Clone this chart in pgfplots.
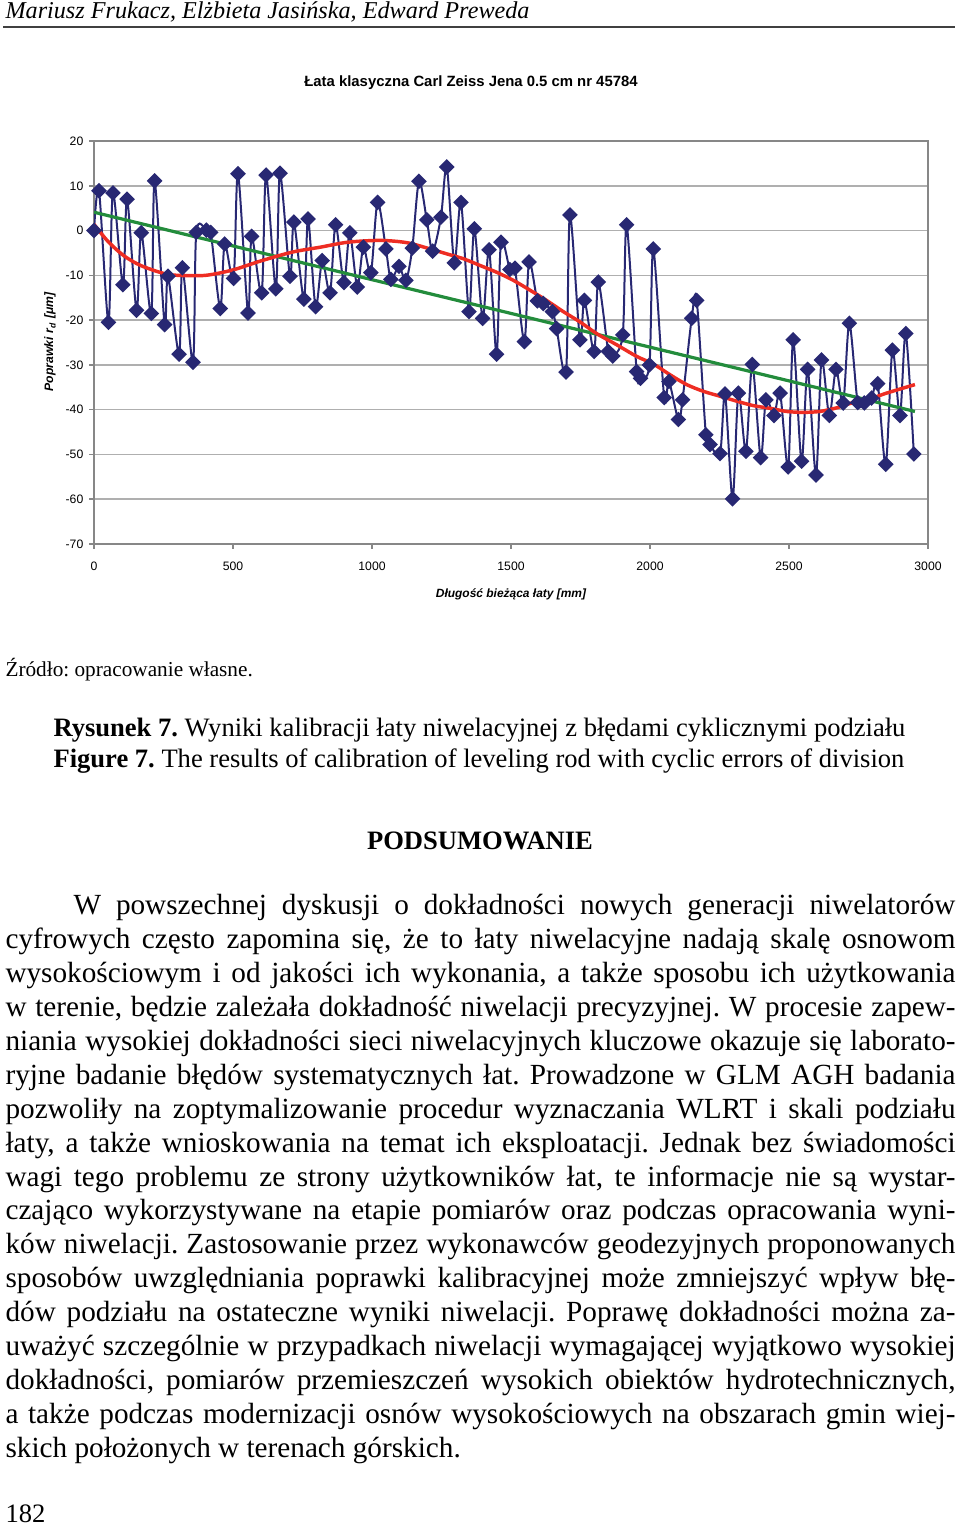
\documentclass[border=0pt]{standalone}
\usepackage{fontspec}
\usepackage{pgfplots}
\pgfplotsset{compat=1.18}
\setmainfont{Liberation Serif}
\newfontfamily\chartfont{Liberation Sans}
\definecolor{navycol}{RGB}{40,40,115}
\definecolor{redcol}{RGB}{238,45,35}
\definecolor{greencol}{RGB}{35,140,60}
\definecolor{framecol}{RGB}{135,135,135}
\definecolor{gridcol}{RGB}{175,175,175}
\newcommand\bodyline[2]{\node[anchor=base west, inner sep=0pt] at (5,#1) {\fontsize{11}{12.7}\selectfont\hbox to 356.25bp{#2}};}
\frenchspacing

\begin{document}
\begin{tikzpicture}
\useasboundingbox (0,0) rectangle (360bp,-572.625bp);
% pixel grid of the page: 1 px = 0.375bp, y downwards
\begin{scope}[x=0.375bp,y=-0.375bp]
  \node[anchor=base west, inner sep=0pt] at (5,19) {\fontsize{9.1}{10}\selectfont\itshape Mariusz Frukacz, Elżbieta Jasińska, Edward Preweda};
  \draw[line width=0.8bp, black!75] (3,27) -- (955,27);
  \node[anchor=base, inner sep=0pt] at (471,87) {\chartfont\bfseries\fontsize{5.6}{6}\selectfont Łata klasyczna Carl Zeiss Jena 0.5 cm nr 45784};
  \node[rotate=90, inner sep=0pt] at (50,342) {\chartfont\bfseries\itshape\fontsize{4.6}{5}\selectfont Poprawki r\textsubscript{d} [μm]};
  \node[inner sep=0pt] at (511,594) {\chartfont\bfseries\itshape\fontsize{4.5}{5}\selectfont Długość bieżąca łaty [mm]};
  \node[anchor=base west, inner sep=0pt] at (5,677) {\fontsize{8}{9}\selectfont Źródło: opracowanie własne.};
  \node[anchor=base west, inner sep=0pt] at (53,737) {\fontsize{10}{11}\selectfont\textbf{Rysunek 7.} Wyniki kalibracji łaty niwelacyjnej z błędami cyklicznymi podziału};
  \node[anchor=base west, inner sep=0pt] at (53,768) {\fontsize{10}{11}\selectfont\textbf{Figure 7.} The results of calibration of leveling rod with cyclic errors of division};
  \node[anchor=base, inner sep=0pt] at (480,850) {\fontsize{10}{11}\selectfont\textbf{PODSUMOWANIE}};
  \bodyline{915}{\hspace*{25.5bp}W powszechnej dyskusji o dokładności nowych generacji niwelatorów}
  \bodyline{948.875}{cyfrowych często zapomina się, że to łaty niwelacyjne nadają skalę osnowom}
  \bodyline{982.75}{wysokościowym i od jakości ich wykonania, a także sposobu ich użytkowania}
  \bodyline{1016.625}{w terenie, będzie zależała dokładność niwelacji precyzyjnej. W procesie zapew-}
  \bodyline{1050.5}{niania wysokiej dokładności sieci niwelacyjnych kluczowe okazuje się laborato-}
  \bodyline{1084.375}{ryjne badanie błędów systematycznych łat. Prowadzone w GLM AGH badania}
  \bodyline{1118.25}{pozwoliły na zoptymalizowanie procedur wyznaczania WLRT i skali podziału}
  \bodyline{1152.125}{łaty, a także wnioskowania na temat ich eksploatacji. Jednak bez świadomości}
  \bodyline{1186}{wagi tego problemu ze strony użytkowników łat, te informacje nie są wystar-}
  \bodyline{1219.875}{czająco wykorzystywane na etapie pomiarów oraz podczas opracowania wyni-}
  \bodyline{1253.75}{ków niwelacji. Zastosowanie przez wykonawców geodezyjnych proponowanych}
  \bodyline{1287.625}{sposobów uwzględniania poprawki kalibracyjnej może zmniejszyć wpływ błę-}
  \bodyline{1321.5}{dów podziału na ostateczne wyniki niwelacji. Poprawę dokładności można za-}
  \bodyline{1355.375}{uważyć szczególnie w przypadkach niwelacji wymagającej wyjątkowo wysokiej}
  \bodyline{1389.25}{dokładności, pomiarów przemieszczeń wysokich obiektów hydrotechnicznych,}
  \bodyline{1423.125}{a także podczas modernizacji osnów wysokościowych na obszarach gmin wiej-}
  \node[anchor=base west, inner sep=0pt] at (5,1457) {\fontsize{11}{12.7}\selectfont skich położonych w terenach górskich.};
  \node[anchor=base west, inner sep=0pt] at (5,1522) {\fontsize{10}{11}\selectfont 182};
\end{scope}

\begin{axis}[
    at={(35.25bp,-204bp)}, anchor=south west,
    scale only axis, width=312.75bp, height=151.125bp,
    xmin=0, xmax=3000, ymin=-70, ymax=20,
    xtick={0,500,...,3000}, ytick={-70,-60,...,20},
    xtick pos=bottom, ytick pos=left,
    tick align=outside, major tick length=1.8bp,
    tick style={framecol, line width=0.6bp},
    axis line style={framecol, line width=0.8bp},
    ymajorgrids, grid style={gridcol, line width=0.6bp},
    /pgf/number format/assume math mode=true,
    /pgf/number format/set thousands separator={},
    ticklabel style={font=\chartfont\fontsize{4.6}{5}\selectfont},
    xticklabel style={anchor=center, yshift=-6.5bp},
    yticklabel style={anchor=east, inner sep=0pt, xshift=-2bp},
]
% measured corrections
\addplot[navycol, line width=0.75bp, smooth, tension=0.5,
    mark=square*, mark size=1.7bp, mark options={rotate=45, fill=navycol, draw=navycol, solid}]
coordinates {
(0,0) (18,8.9) (52,-20.5) (68,8.4) (104,-12.1) (119,7.0) (153,-17.8) (170,-0.5)
(206,-18.5) (218,11.1) (254,-21.0) (266,-10.2) (306,-27.6) (318,-8.3) (356,-29.4) (368,-0.4)
(404,0.1) (420,-0.4) (454,-17.4) (470,-3.0) (502,-10.7) (518,12.7) (554,-18.4) (567,-1.3)
(603,-13.9) (619,12.4) (654,-13.0) (669,12.8) (705,-10.2) (719,1.9) (755,-15.3) (770,2.6)
(797,-17.0) (821,-6.7) (849,-13.9) (869,1.3) (899,-11.6) (920,-0.5) (947,-12.6) (969,-3.7)
(996,-9.4) (1020,6.3) (1050,-4.1) (1068,-10.9) (1097,-8.0) (1122,-11.1) (1145,-3.9) (1169,11.0)
(1197,2.4) (1218,-4.6) (1248,3.0) (1269,14.2) (1296,-7.2) (1320,6.3) (1349,-18.1) (1368,0.4)
(1398,-19.6) (1421,-4.3) (1448,-27.6) (1464,-2.6) (1496,-8.7) (1514,-8.4) (1548,-24.8) (1565,-7.0)
(1595,-15.7) (1616,-16.3) (1649,-18.1) (1664,-21.9) (1698,-31.6) (1712,3.5) (1748,-24.4) (1764,-15.6)
(1799,-27.0) (1814,-11.5) (1850,-27.0) (1866,-28.0) (1902,-23.3) (1916,1.3) (1952,-31.5) (1966,-33.0)
(1998,-30.0) (2012,-4.1) (2051,-37.3) (2068,-33.7) (2102,-42.2) (2117,-37.8) (2150,-19.6) (2168,-15.6)
(2201,-45.6) (2216,-47.8) (2252,-49.8) (2270,-36.5) (2297,-59.9) (2318,-36.3) (2345,-49.3) (2368,-29.9)
(2398,-50.7) (2417,-37.8) (2446,-41.3) (2468,-36.3) (2497,-52.8) (2515,-24.4) (2545,-51.5) (2567,-31.0)
(2597,-54.6) (2617,-28.9) (2645,-41.3) (2669,-31.0) (2695,-38.5) (2717,-20.7) (2747,-38.4) (2771,-38.5)
(2797,-37.4) (2819,-34.2) (2848,-52.2) (2872,-26.7) (2899,-41.3) (2920,-23.0) (2949,-49.9)
};
% linear trend
\addplot[greencol, line width=1.2bp] coordinates {(0,4.1) (2953,-40.4)};
% polynomial trend
\addplot[redcol, line width=1.3bp, smooth] coordinates {
(0,1.4) (50,-2.4) (107,-5.6) (168,-7.8) (252,-9.6) (303,-10.0) (401,-10.0) (499,-8.8)
(599,-6.8) (714,-4.8) (815,-3.7) (913,-2.6) (1029,-2.2) (1125,-2.7) (1209,-4.1) (1269,-5.2)
(1329,-6.3) (1389,-7.8) (1448,-9.3) (1508,-11.1) (1568,-13.3) (1628,-15.6) (1688,-18.1) (1748,-20.4)
(1808,-23.0) (1880,-25.5) (1952,-28.1) (2012,-29.8) (2072,-32.2) (2132,-34.4) (2192,-35.9) (2252,-37.0)
(2312,-38.1) (2372,-39.1) (2432,-39.7) (2492,-40.4) (2551,-40.6) (2611,-40.4) (2671,-39.6) (2731,-38.4)
(2791,-37.6) (2851,-36.3) (2953,-34.4)
};
\end{axis}
\end{tikzpicture}
\end{document}
